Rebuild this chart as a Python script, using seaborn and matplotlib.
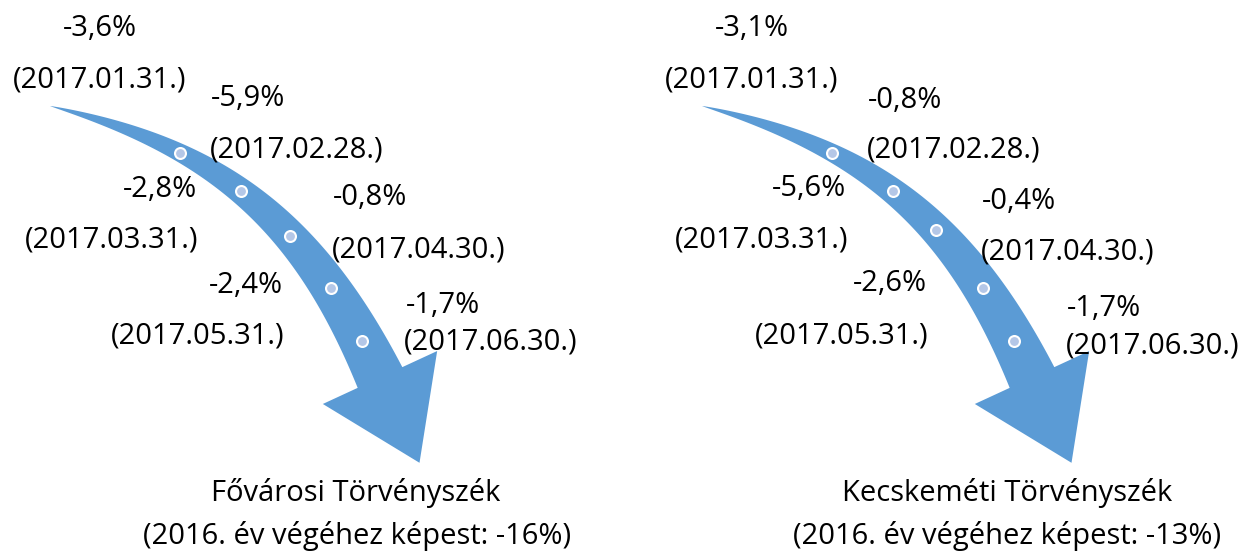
import numpy as np
import pandas as pd
import matplotlib
matplotlib.use("Agg")
import matplotlib.pyplot as plt
from matplotlib.patches import Polygon
import seaborn as sns

# --- data ---
DATES = ["2017.01.31.", "2017.02.28.", "2017.03.31.", "2017.04.30.", "2017.05.31.", "2017.06.30."]
COURTS = ["Fővárosi Törvényszék", "Kecskeméti Törvényszék"]
FOVAROSI_CHANGE = [-3.6, -5.9, -2.8, -0.8, -2.4, -1.7]
KECSKEMET_CHANGE = [-3.1, -0.8, -5.6, -0.4, -2.6, -1.7]
YEAR_TOTAL = [-16, -13]

# --- layout (pixel space, y grows downwards) ---
X_SHIFT = [0, 652]
DOT_T = [[0.30, 0.475, 0.635, 0.79, 0.92],
         [0.30, 0.475, 0.615, 0.79, 0.92]]
PCT_POS = [
    [(100, 36, "center"), (211, 106, "left"), (197, 197, "right"),
     (333, 205, "left"), (283, 293, "right"), (406, 313, "left")],
    [(752, 36, "center"), (868, 108, "left"), (846, 196, "right"),
     (982, 209, "left"), (927, 291, "right"), (1067, 316, "left")],
]
DATE_POS = [
    [(100, 87, "center"), (210, 157, "left"), (198, 247, "right"),
     (332, 257, "left"), (285, 344, "right"), (404, 349, "left")],
    [(752, 87, "center"), (867, 158, "left"), (848, 247, "right"),
     (981, 260, "left"), (929, 343, "right"), (1066, 354, "left")],
]
TITLE_POS = [(356, 501), (1007, 501)]
SUB_POS = [(357, 544), (1007, 544)]

ARROW_BLUE = "#5B9BD5"
DOT_FILL = "#B4C7E7"
FS = 21

# arrow geometry of the left chart
TAIL = np.array([50.0, 106.0])
BASE = np.array([380.0, 377.5])
START_DIR = np.array([0.970, 0.242])
END_DIR = np.array([0.42, 0.907])
END_DIR = END_DIR / np.linalg.norm(END_DIR)
HALF_W = 24.6
WING = 63.0
HEAD_LEN = 94.0


def control_points(x0):
    shift = np.array([x0, 0.0])
    p0 = TAIL + shift
    p3 = BASE + shift
    p1 = p0 + 170 * START_DIR
    p2 = p3 - 175 * END_DIR
    return p0, p1, p2, p3


def bezier(t, x0):
    p0, p1, p2, p3 = control_points(x0)
    t = np.asarray(t)[:, None]
    return ((1 - t) ** 3 * p0 + 3 * t * (1 - t) ** 2 * p1
            + 3 * t ** 2 * (1 - t) * p2 + t ** 3 * p3)


def arrow_polygon(x0):
    t = np.linspace(0, 1, 300)
    pts = bezier(t, x0)
    d = np.gradient(pts, axis=0)
    d = d / np.linalg.norm(d, axis=1)[:, None]
    normal = np.column_stack([-d[:, 1], d[:, 0]])
    seg = np.r_[0, np.cumsum(np.linalg.norm(np.diff(pts, axis=0), axis=1))]
    w = HALF_W * (seg / seg[-1]) ** 0.85
    outer = pts - w[:, None] * normal
    inner = pts + w[:, None] * normal
    c = pts[-1]
    n_end = np.array([-END_DIR[1], END_DIR[0]])
    head = [c - WING * n_end, c + HEAD_LEN * END_DIR, c + WING * n_end]
    return np.vstack([outer, head, inner[::-1]])


def fmt_pct(v):
    return f"{v:.1f}%".replace(".", ",")


sns.set_theme(style="white")
plt.rcParams["font.family"] = ["Open Sans", "DejaVu Sans"]

fig = plt.figure(figsize=(12.52, 5.54), dpi=100)
ax = fig.add_axes([0, 0, 1, 1])
ax.set_xlim(0, 1252)
ax.set_ylim(554, 0)
ax.axis("off")

for i, changes in enumerate([FOVAROSI_CHANGE, KECSKEMET_CHANGE]):
    x0 = X_SHIFT[i]
    ax.add_patch(Polygon(arrow_polygon(x0), closed=True, facecolor=ARROW_BLUE,
                         edgecolor="none", zorder=1))

    dots = bezier(DOT_T[i], x0)
    dot_df = pd.DataFrame({"x": dots[:, 0], "y": dots[:, 1]})
    sns.scatterplot(data=dot_df, x="x", y="y", ax=ax, s=62, color=DOT_FILL,
                    edgecolor="white", linewidth=1.5, zorder=3, legend=False)

    for j, (val, date) in enumerate(zip(changes, DATES)):
        px, py, ha = PCT_POS[i][j]
        ax.text(px, py, fmt_pct(val), ha=ha, va="baseline", fontsize=FS, color="black")
        dx, dy, dha = DATE_POS[i][j]
        ax.text(dx, dy, f"({date})", ha=dha, va="baseline", fontsize=FS, color="black")

    tx, ty = TITLE_POS[i]
    ax.text(tx, ty, COURTS[i], ha="center", va="baseline", fontsize=FS, color="black")
    sx, sy = SUB_POS[i]
    ax.text(sx, sy, f"(2016. év végéhez képest: {YEAR_TOTAL[i]}%)", ha="center",
            va="baseline", fontsize=FS, color="black")

ax.set_xlabel("")
ax.set_ylabel("")
fig.savefig("out.png", dpi=100)
